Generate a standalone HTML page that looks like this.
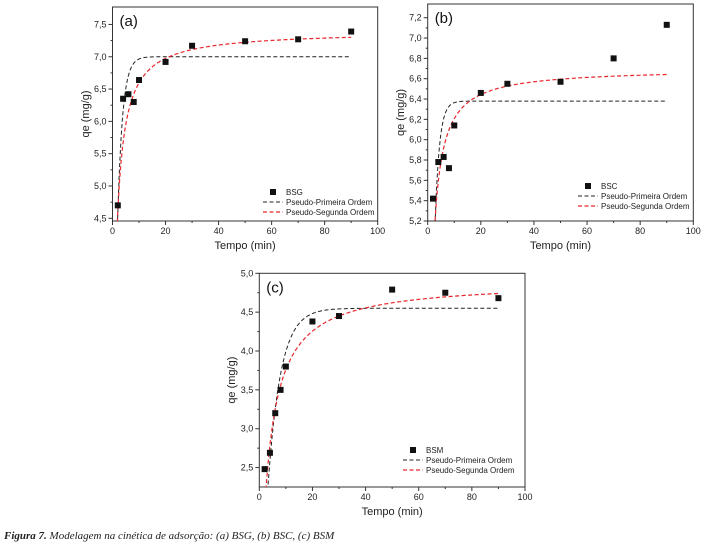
<!DOCTYPE html>
<html><head><meta charset="utf-8"><style>
html,body{margin:0;padding:0;background:#fff;width:704px;height:547px;overflow:hidden;position:relative;}
svg{position:absolute;left:0;top:0;overflow:hidden;font-family:"Liberation Sans",sans-serif;}
</style></head><body><svg id="s" width="704" height="547" viewBox="0 0 704 547" xmlns="http://www.w3.org/2000/svg"></svg><script>
const S=document.getElementById('s');let h='';
function panel(o){
 const {L,R,T,B,ymin,ymax,yt,ydec,pts,pfo,pso,lbl,leg,id,lx,name}=o;
 const X=t=>L+(t/100)*(R-L), Y=v=>B-(v-ymin)/(ymax-ymin)*(B-T);
 h+=`<clipPath id="c${id}"><rect x="${L}" y="${T}" width="${R-L}" height="${B-T}"/></clipPath>`;
 h+=`<rect x="${L}" y="${T}" width="${R-L}" height="${B-T}" fill="none" stroke="#333" stroke-width="1"/>`;
 for(let t=0;t<=100;t+=10){const x=X(t);h+=`<line x1="${x}" x2="${x}" y1="${B}" y2="${B+(t%20?2:4)}" stroke="#333"/>`;
  if(t%20==0)h+=`<text x="${x}" y="${B+13}" font-size="9" text-anchor="middle" fill="#222">${t}</text>`;}
 for(const v of yt){const y=Y(v);h+=`<line x1="${L-4}" x2="${L}" y1="${y}" y2="${y}" stroke="#333"/>`;
  h+=`<text x="${L-6}" y="${y+3}" font-size="9" text-anchor="end" fill="#222">${v.toFixed(ydec).replace('.',',')}</text>`;}
 for(let i=0;i<yt.length-1;i++){const y=Y((yt[i]+yt[i+1])/2);h+=`<line x1="${L-2}" x2="${L}" y1="${y}" y2="${y}" stroke="#333"/>`;}
 const curve=f=>{let d='';for(let t=1;t<=90;t+=0.25){d+=(d?'L':'M')+X(t).toFixed(1)+','+Y(f(t)).toFixed(1);}return d;};
 h+=`<g clip-path="url(#c${id})"><path d="${curve(pfo)}" fill="none" stroke="#222" stroke-width="1" stroke-dasharray="4,2.5"/><path d="${curve(pso)}" fill="none" stroke="#e8262b" stroke-width="1.2" stroke-dasharray="4,2.5"/></g>`;
 for(const [t,v] of pts)h+=`<rect x="${X(t)-3}" y="${Y(v)-3}" width="6" height="6" fill="#111"/>`;
 h+=`<text x="${L+7}" y="${T+19}" font-size="15" fill="#111">${lbl}</text>`;
 const [a,b]=leg;
 h+=`<rect x="${a+7}" y="${b-3}" width="6" height="6" fill="#111"/><text x="${a+23}" y="${b+3}" font-size="8" fill="#222">${name}</text>`;
 h+=`<line x1="${a}" x2="${a+20}" y1="${b+10}" y2="${b+10}" stroke="#222" stroke-dasharray="4,2.5"/><text x="${a+23}" y="${b+13}" font-size="8" fill="#222">Pseudo-Primeira Ordem</text>`;
 h+=`<line x1="${a}" x2="${a+20}" y1="${b+20}" y2="${b+20}" stroke="#e8262b" stroke-width="1.2" stroke-dasharray="4,2.5"/><text x="${a+23}" y="${b+23}" font-size="8" fill="#222">Pseudo-Segunda Ordem</text>`;
 h+=`<text x="${(L+R)/2}" y="${B+28}" font-size="11" text-anchor="middle" fill="#222">Tempo (min)</text>`;
 h+=`<text transform="translate(${lx},${(T+B)/2}) rotate(-90)" font-size="11" text-anchor="middle" fill="#222">qe (mg/g)</text>`;
}
panel({id:'a',L:112.5,R:377.7,T:7,B:221,ymin:4.458,ymax:7.77,yt:[4.5,5,5.5,6,6.5,7,7.5],ydec:1,
 pts:[[2,4.7],[4,6.35],[6,6.42],[8,6.3],[10,6.64],[20,6.92],[30,7.17],[50,7.24],[70,7.27],[90,7.39]],
 pfo:t=>7*(1-Math.exp(-0.53*t)),pso:t=>7.4*0.82*t/(1+0.82*t),lbl:'(a)',leg:[263,192],lx:89,name:'BSG'});
panel({id:'b',L:427.7,R:693.3,T:4,B:221,ymin:5.2,ymax:7.335,yt:[5.2,5.4,5.6,5.8,6,6.2,6.4,6.6,6.8,7,7.2],ydec:1,
 pts:[[2,5.42],[4,5.78],[6,5.83],[8,5.72],[10,6.14],[20,6.46],[30,6.55],[50,6.57],[70,6.8],[90,7.13]],
 pfo:t=>6.38*(1-Math.exp(-0.6*t)),pso:t=>6.7*1.26*t/(1+1.26*t),lbl:'(b)',leg:[578,186],lx:404,name:'BSC'});
panel({id:'c',L:259.3,R:525,T:273.3,B:487,ymin:2.25,ymax:5,yt:[2.5,3,3.5,4,4.5,5],ydec:1,
 pts:[[2,2.48],[4,2.69],[6,3.2],[8,3.5],[10,3.8],[20,4.38],[30,4.45],[50,4.79],[70,4.75],[90,4.68]],
 pfo:t=>4.55*(1-Math.exp(-0.21*t)),pso:t=>4.9*0.33*t/(1+0.33*t),lbl:'(c)',leg:[403,450],lx:235,name:'BSM'});
h+=`<text x="4" y="539" font-family="Liberation Serif,serif" font-style="italic" font-size="11" fill="#222"><tspan font-weight="bold">Figura 7.</tspan> Modelagem na cinética de adsorção: (a) BSG, (b) BSC, (c) BSM</text>`;
S.innerHTML=h;
</script></body></html>
